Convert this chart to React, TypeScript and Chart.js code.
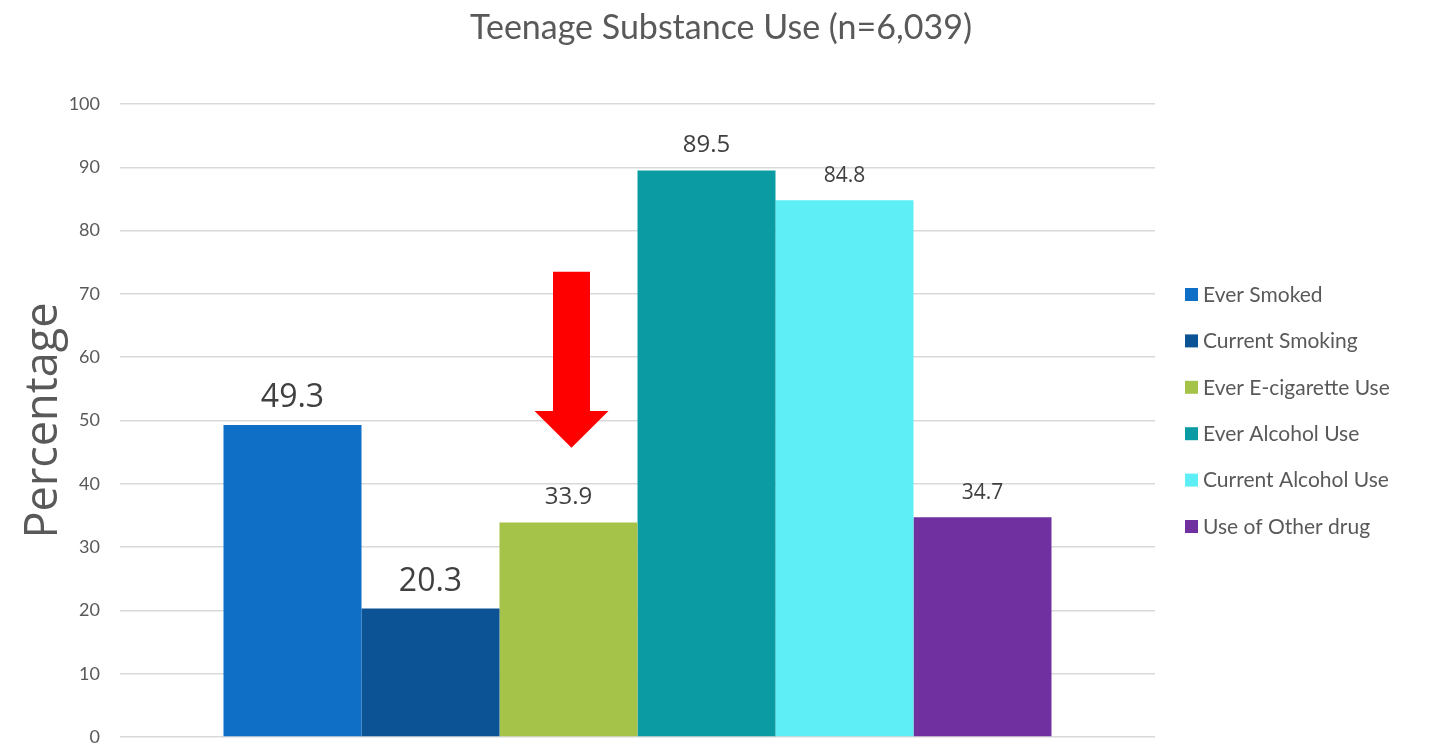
import React, { useEffect, useRef } from "react";
import { Chart, registerables } from "chart.js";

Chart.register(...registerables);

const seriesNames = [
  "Ever Smoked",
  "Current Smoking",
  "Ever E-cigarette Use",
  "Ever Alcohol Use",
  "Current Alcohol Use",
  "Use of Other drug",
];
const seriesValues = [49.3, 20.3, 33.9, 89.5, 84.8, 34.7];
const seriesColors = ["#0F6FC6", "#0C5396", "#A5C249", "#0A9CA2", "#5DEFF5", "#7030A0"];
const labelFontSizes = [32, 32, 24, 24, 21, 21];
const yTicks = [0, 10, 20, 30, 40, 50, 60, 70, 80, 90, 100];

// Red callout arrow above the e-cigarette bar (value-axis units)
const arrowSeriesIndex = 2;
const arrowTop = 73.5;
const arrowHeadBase = 51.5;
const arrowTip = 45.7;

const TEXT_GREY = "#595959";
const LABEL_GREY = "#404040";

const overlayPlugin = {
  id: "overlay",
  afterDatasetsDraw(chart: any) {
    const ctx = chart.ctx;
    const yScale = chart.scales.y;
    ctx.save();
    // value labels above bars
    chart.data.datasets.forEach((ds: any, i: number) => {
      const bar = chart.getDatasetMeta(i).data[0];
      ctx.font = `${labelFontSizes[i]}px "Open Sans", sans-serif`;
      ctx.fillStyle = LABEL_GREY;
      ctx.textAlign = "center";
      ctx.textBaseline = "alphabetic";
      ctx.fillText(String(ds.data[0]), bar.x, bar.y - 18);
    });
    // arrow
    const ab = chart.getDatasetMeta(arrowSeriesIndex).data[0];
    const cx = ab.x + 3;
    const yTop = yScale.getPixelForValue(arrowTop);
    const yBase = yScale.getPixelForValue(arrowHeadBase);
    const yTip = yScale.getPixelForValue(arrowTip);
    const shaft = 18.5;
    const head = 37;
    ctx.fillStyle = "#FF0000";
    ctx.beginPath();
    ctx.moveTo(cx - shaft, yTop);
    ctx.lineTo(cx + shaft, yTop);
    ctx.lineTo(cx + shaft, yBase);
    ctx.lineTo(cx + head, yBase);
    ctx.lineTo(cx, yTip);
    ctx.lineTo(cx - head, yBase);
    ctx.lineTo(cx - shaft, yBase);
    ctx.closePath();
    ctx.fill();
    ctx.restore();
  },
  afterDraw(chart: any) {
    const ctx = chart.ctx;
    const area = chart.chartArea;
    ctx.save();
    // title
    ctx.font = '34px "Lato", sans-serif';
    ctx.fillStyle = TEXT_GREY;
    ctx.textAlign = "center";
    ctx.textBaseline = "middle";
    ctx.fillText("Teenage Substance Use (n=6,039)", 721, 28);
    // legend
    ctx.font = '21px "Lato", sans-serif';
    ctx.textAlign = "left";
    const lx = area.right + 30;
    seriesNames.forEach((name, i) => {
      const cy = 294 + i * 46.4;
      ctx.fillStyle = seriesColors[i];
      ctx.fillRect(lx, cy - 6, 13, 13);
      ctx.fillStyle = TEXT_GREY;
      ctx.fillText(name, lx + 18, cy + 1);
    });
    ctx.restore();
  },
};

export default function App() {
  const canvasRef = useRef<HTMLCanvasElement | null>(null);

  useEffect(() => {
    if (!canvasRef.current) return;
    const chart = new Chart(canvasRef.current, {
      type: "bar",
      data: {
        labels: [""],
        datasets: seriesNames.map((name, i) => ({
          label: name,
          data: [seriesValues[i]],
          backgroundColor: seriesColors[i],
          borderWidth: 0,
          categoryPercentage: 0.8,
          barPercentage: 1,
        })),
      },
      options: {
        animation: false,
        responsive: false,
        layout: { padding: { top: 104, bottom: 7, right: 280, left: 0 } },
        plugins: {
          legend: { display: false },
          title: { display: false },
          tooltip: { enabled: false },
        },
        scales: {
          x: { display: false },
          y: {
            min: 0,
            max: 100,
            afterBuildTicks(scale: any) {
              scale.ticks = yTicks.map((v) => ({ value: v }));
            },
            afterFit(scale: any) {
              scale.width = 120;
              scale.paddingTop = 0;
              scale.paddingBottom = 0;
            },
            grid: { color: "#D9D9D9", lineWidth: 1.5, drawTicks: false },
            border: { display: false },
            ticks: {
              padding: 20,
              color: TEXT_GREY,
              font: { family: "Lato", size: 18 },
            },
            title: {
              display: true,
              text: "Percentage",
              color: TEXT_GREY,
              font: { family: "Open Sans", size: 45 },
              padding: { top: 17, bottom: 0 },
            },
          },
        },
      },
      plugins: [overlayPlugin],
    });
    return () => chart.destroy();
  }, []);

  return (
    <div style={{ position: "fixed", left: 0, top: 0, width: 1435, height: 744, background: "#fff" }}>
      <canvas ref={canvasRef} width={1435} height={744} style={{ width: 1435, height: 744 }} />
    </div>
  );
}
